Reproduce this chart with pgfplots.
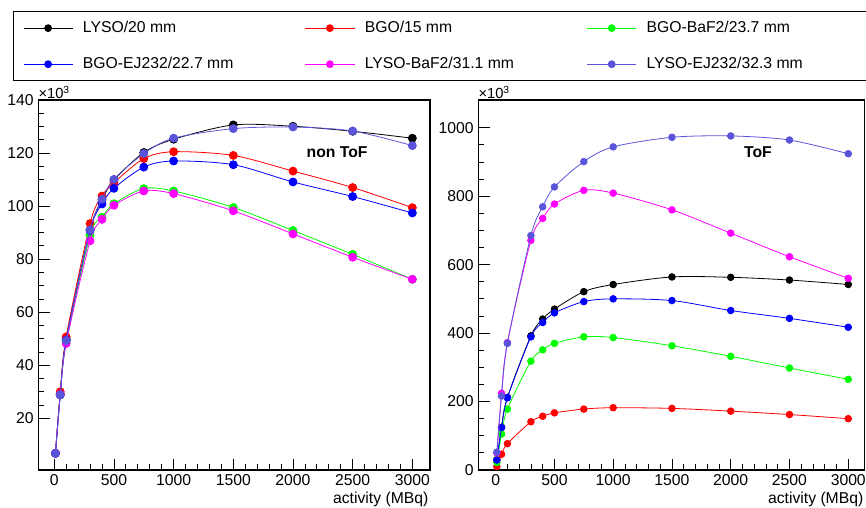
\documentclass[border=0pt]{standalone}
\usepackage{pgfplots}
\pgfplotsset{compat=1.18}
\usepackage{fontspec}
\setmainfont{Liberation Sans}
\definecolor{rviolet}{RGB}{89,84,217}
\definecolor{rgreen}{RGB}{0,255,0}
\definecolor{rred}{RGB}{255,0,0}
\definecolor{rblue}{RGB}{0,0,255}
\definecolor{rmag}{RGB}{255,0,255}

\pgfplotstableread{
x     lyso  bgo   bgobaf bgoej lysobaf lysoej
10    6.8   6.8   6.8    6.8   6.8     6.8
50    28.8  30.0  29.0   29.0  29.0    28.8
100   49.8  50.7  48.5   49.5  48.2    49.3
300   91.0  93.4  89.0   90.8  86.9    91.0
400   102.3 103.8 95.8   100.8 95.0    102.6
500   109.8 108.8 100.9  106.7 100.3   110.1
750   120.2 117.9 106.6  114.7 105.7   119.8
1000  125.2 120.5 105.7  117.0 104.7   125.6
1500  130.6 119.1 99.5   115.6 98.2    129.2
2000  130.1 113.2 90.8   109.1 89.5    129.8
2500  128.2 107.0 81.8   103.6 80.7    128.3
3000  125.6 99.4  72.4   97.4  72.4    122.8
}\nontof

\pgfplotstableread{
x     lyso  bgo   bgobaf bgoej lysobaf lysoej
10    30    10    22     29    50      52
50    125   46    105    124   224     216
100   212   77    178    211   372     370
300   392   141   318    389   671     685
400   441   157   351    431   735     769
500   470   167   370    459   777     827
750   521   178   389    492   817     901
1000  542   182   387    500   809     944
1500  564   180   363    495   760     972
2000  563   172   332    466   692     976
2500  555   162   298    443   623     964
3000  542   150   265    417   560     924
}\tof

\pgfplotsset{
  rootax/.style={
    scale only axis,
    height=277.5pt,
    clip mode=individual,
    axis line style={line width=0.8pt},
    tick align=inside,
    xtick pos=lower, ytick pos=left,
    major tick length=8.5pt, minor tick length=4.2pt,
    every tick/.style={black, line width=0.6pt},
    tick label style={font=\fontsize{11.8}{13}\selectfont},
    /pgf/number format/assume math mode=true,
    /pgf/number format/set thousands separator={},
    scaled ticks=false,
    xtick={0,500,...,3000}, minor x tick num=4,
    xlabel={activity (MBq)},
    every axis x label/.style={at={(ticklabel cs:1)}, anchor=north east, inner sep=1pt, font=\fontsize{11.8}{13}\selectfont},
    every axis plot/.append style={line width=0.6pt, smooth, mark=*, mark options={solid}},
  },
}

\begin{document}
\begin{tikzpicture}
\path[use as bounding box] (0,0) rectangle (649.5pt,380.25pt);

\begin{axis}[rootax,
  at={(28.7pt,27.75pt)}, anchor=south west,
  width=293.8pt,
  xmin=-134, xmax=3148,
  ymin=0.5, ymax=140,
  ytick={20,40,...,140}, minor y tick num=3,
  every axis plot/.append style={mark size=3pt},
  legend columns=3,
  legend cell align=left,
  legend image code/.code={\draw[mark repeat=2,mark phase=2,#1,mark size=2.6pt] plot coordinates {(0pt,0pt) (18.4pt,0pt) (36.75pt,0pt)};},
  legend style={at={(-0.0654,1.2404)}, anchor=north west, draw=black, line width=0.8pt,
    font=\fontsize{11.8}{13}\selectfont,
    nodes={inner sep=0pt},
    row sep=17pt, column sep=0pt,
    inner xsep=7.5pt, inner ysep=7.4pt},
]
\addplot[black, mark options={fill=black}] table[x=x,y=lyso] {\nontof};
\addlegendentry{\makebox[174pt][l]{\hspace{7.5pt}\rule[-2.5pt]{0pt}{11pt}LYSO/20 mm}}
\addplot[rred, mark options={fill=rred}] table[x=x,y=bgo] {\nontof};
\addlegendentry{\makebox[174pt][l]{\hspace{7.5pt}\rule[-2.5pt]{0pt}{11pt}BGO/15 mm}}
\addplot[rgreen, mark options={fill=rgreen}] table[x=x,y=bgobaf] {\nontof};
\addlegendentry{\makebox[165pt][l]{\hspace{7.5pt}\rule[-2.5pt]{0pt}{11pt}BGO-BaF2/23.7 mm}}
\addplot[rblue, mark options={fill=rblue}] table[x=x,y=bgoej] {\nontof};
\addlegendentry{\makebox[174pt][l]{\hspace{7.5pt}\rule[-2.5pt]{0pt}{11pt}BGO-EJ232/22.7 mm}}
\addplot[rmag, mark options={fill=rmag}] table[x=x,y=lysobaf] {\nontof};
\addlegendentry{\makebox[174pt][l]{\hspace{7.5pt}\rule[-2.5pt]{0pt}{11pt}LYSO-BaF2/31.1 mm}}
\addplot[rviolet, mark options={fill=rviolet}] table[x=x,y=lysoej] {\nontof};
\addlegendentry{\makebox[165pt][l]{\hspace{7.5pt}\rule[-2.5pt]{0pt}{11pt}LYSO-EJ232/32.3 mm}}
\node[font=\bfseries\fontsize{11.8}{13}\selectfont] at (axis cs:2370,120.4) {non ToF};
\node[anchor=base west, inner sep=0pt, yshift=1pt, font=\fontsize{11}{12}\selectfont] at (rel axis cs:0,1) {×10\textsuperscript{3}};
\end{axis}

\begin{axis}[rootax,
  at={(358.7pt,27.75pt)}, anchor=south west,
  width=290pt,
  xmin=-148, xmax=3142,
  ymin=0, ymax=1081,
  ytick={0,200,...,1000}, minor y tick num=3,
  every axis plot/.append style={mark size=2.5pt},
]
\addplot[black, mark options={fill=black}] table[x=x,y=lyso] {\tof};
\addplot[rred, mark options={fill=rred}] table[x=x,y=bgo] {\tof};
\addplot[rgreen, mark options={fill=rgreen}] table[x=x,y=bgobaf] {\tof};
\addplot[rblue, mark options={fill=rblue}] table[x=x,y=bgoej] {\tof};
\addplot[rmag, mark options={fill=rmag}] table[x=x,y=lysobaf] {\tof};
\addplot[rviolet, mark options={fill=rviolet}] table[x=x,y=lysoej] {\tof};
\node[font=\bfseries\fontsize{11.8}{13}\selectfont] at (axis cs:2232,930) {ToF};
\node[anchor=base west, inner sep=0pt, yshift=1pt, font=\fontsize{11}{12}\selectfont] at (rel axis cs:0,1) {×10\textsuperscript{3}};
\end{axis}
\end{tikzpicture}
\end{document}
